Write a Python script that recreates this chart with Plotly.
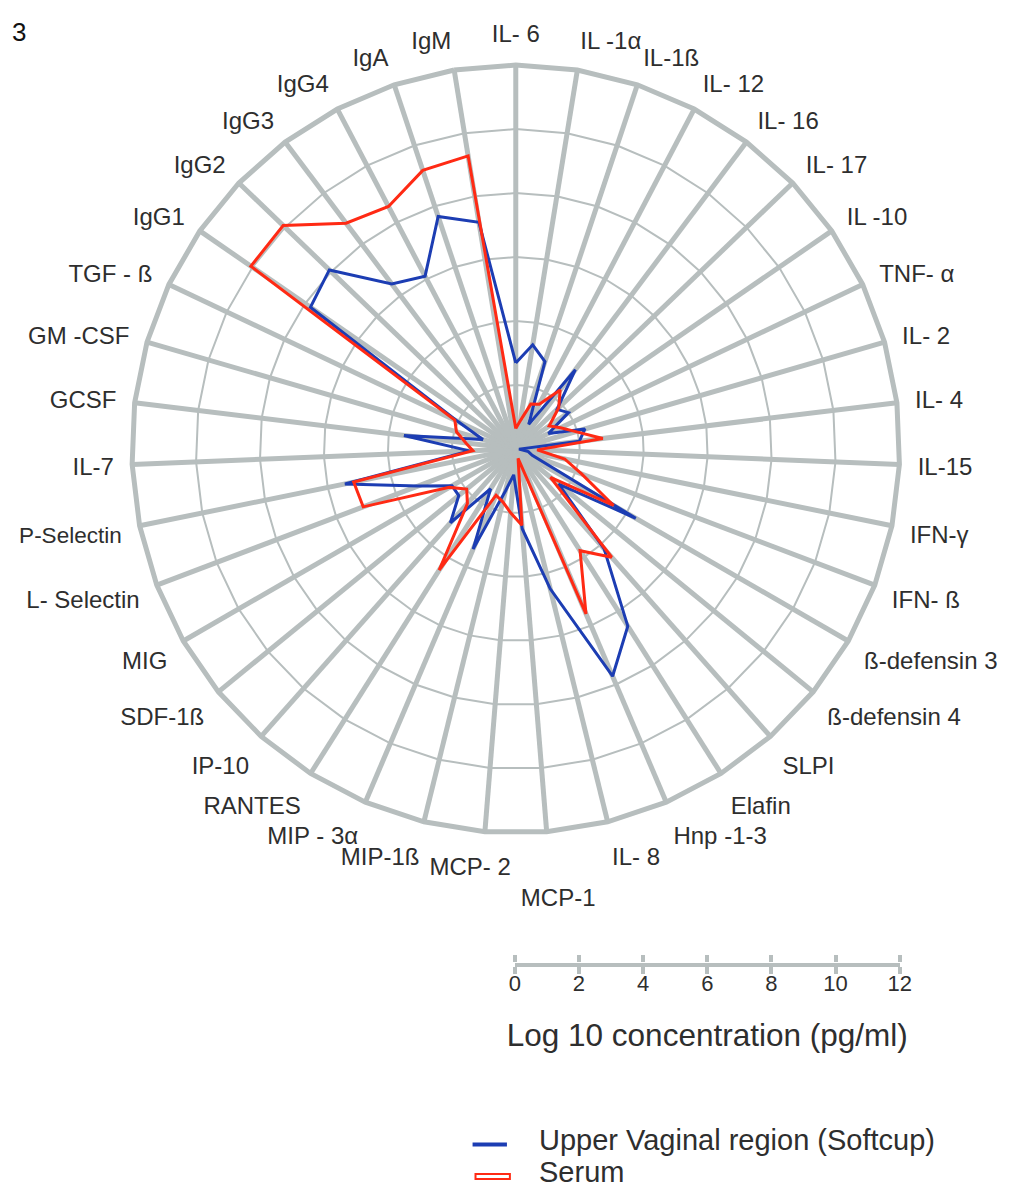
import plotly.graph_objects as go

categories = ["IL- 6", "IL -1α", "IL-1ß", "IL- 12", "IL- 16", "IL- 17", "IL -10", "TNF- α",
              "IL- 2", "IL- 4", "IL-15", "IFN-γ", "IFN- ß", "ß-defensin 3", "ß-defensin 4",
              "SLPI", "Elafin", "Hnp -1-3", "IL- 8", "MCP-1", "MCP- 2", "MIP-1ß", "MIP - 3α",
              "RANTES", "IP-10", "SDF-1ß", "MIG", "L- Selectin", "P-Selectin", "IL-7", "GCSF",
              "GM -CSF", "TGF - ß", "IgG1", "IgG2", "IgG3", "IgG4", "IgA", "IgM"]

# displayed tick labels (the two bottom labels are staggered as in the reference)
tick_labels = [c for c in categories]
tick_labels[categories.index("MCP-1")] = "<br>\u00a0\u00a0\u00a0MCP-1"
tick_labels[categories.index("MCP- 2")] = "MCP- 2\u00a0\u00a0\u00a0\u00a0"
tick_labels[categories.index("P-Selectin")] = "<span style='font-size:22.5px'>P-Selectin</span>"

upper_vaginal = [2.69, 3.3, 2.88, 0.87, 3.1, 1.79, 2.0, 1.13, 2.25, 2.0, 0.1, 0.4, 0.55,
                 4.33, 1.73, 4.16, 6.55, 7.72, 4.5, 2.5, 0.81, 1.35, 3.4, 1.47, 3.08, 2.3,
                 2.3, 3.27, 5.45, 1.45, 3.52, 1.07, 2.0, 7.8, 8.08, 6.45, 6.1, 7.66, 7.18]

serum = [0.64, 0.9, 1.48, 1.58, 2.31, 1.86, 1.27, 1.55, 1.95, 2.74, 0.67, 1.56, 2.2,
         3.53, 1.40, 4.52, 3.76, 5.6, 0.3, 2.39, 2.0, 1.7, 1.57, 4.48, 2.28, 1.98,
         2.4, 5.1, 5.17, 1.34, 1.57, 1.93, 2.11, 10.06, 10.08, 8.83, 8.56, 9.18, 9.28]

scale_ticks = [0, 2, 4, 6, 8, 10, 12]

series_names = ["Upper Vaginal region (Softcup)", "Serum"]

GRID = "#b7bebe"
BLUE = "#1c3db3"
RED = "#ff2a14"
TEXT = "#2e2e2e"
FONT = "Liberation Sans, Arial, sans-serif"

# figure sized so that the page (with the browser's 8px body margin) fits the window
W, H = 997, 1181
OFF = 8


def px(xr):
    return (xr - OFF) / W


def py(yr):
    return (H - (yr - OFF)) / H


cx, cy, R = 519, 449, 391

fig = go.Figure()

fig.add_trace(go.Scatterpolar(
    r=upper_vaginal + upper_vaginal[:1],
    theta=categories + categories[:1],
    mode="lines",
    line=dict(color=BLUE, width=3),
    name=series_names[0],
    showlegend=False,
))
fig.add_trace(go.Scatterpolar(
    r=serum + serum[:1],
    theta=categories + categories[:1],
    mode="lines",
    line=dict(color=RED, width=3),
    name=series_names[1],
    showlegend=False,
))

# invisible traces so that the scale-bar axes are drawn
fig.add_trace(go.Scatter(x=[scale_ticks[0], scale_ticks[-1]], y=[0, 0], mode="markers",
                         marker=dict(opacity=0), showlegend=False, hoverinfo="skip",
                         xaxis="x", yaxis="y"))
fig.add_trace(go.Scatter(x=[scale_ticks[0]], y=[0], mode="markers", marker=dict(opacity=0),
                         showlegend=False, hoverinfo="skip", xaxis="x2", yaxis="y"))

# legend drawn by hand (line swatch for the first series, hollow bar for the second)
LEG_FONT = 29
leg_y = [1139.5, 1172]
legend_shapes = [
    dict(type="line", xref="paper", yref="paper", x0=px(475), x1=px(510),
         y0=py(leg_y[0] + 5), y1=py(leg_y[0] + 5), line=dict(color=BLUE, width=4)),
    dict(type="rect", xref="paper", yref="paper", x0=px(478), x1=px(513),
         y0=py(leg_y[1] + 7), y1=py(leg_y[1] + 2), line=dict(color=RED, width=2),
         fillcolor="white"),
]
legend_texts = [
    dict(text=name, x=px(541), y=py(yv), xref="paper", yref="paper",
         xanchor="left", yanchor="middle", showarrow=False,
         font=dict(size=LEG_FONT, color=TEXT, family=FONT))
    for name, yv in zip(series_names, leg_y)
]

fig.update_layout(
    width=W, height=H,
    margin=dict(l=0, r=0, t=0, b=0),
    paper_bgcolor="white",
    plot_bgcolor="rgba(0,0,0,0)",
    font=dict(family=FONT, color=TEXT),
    showlegend=False,
    polar=dict(
        domain=dict(x=[px(cx - R), px(cx + R)], y=[py(cy + R), py(cy - R)]),
        bgcolor="white",
        gridshape="linear",
        radialaxis=dict(range=[0, 12], dtick=2, showticklabels=False, ticks="",
                        showline=False, gridcolor=GRID, gridwidth=2),
        angularaxis=dict(type="category", categoryorder="array", categoryarray=categories,
                         tickmode="array", tickvals=categories, ticktext=tick_labels,
                         rotation=90, direction="clockwise",
                         gridcolor=GRID, gridwidth=5, showline=True, linecolor=GRID,
                         linewidth=5, ticks="outside", ticklen=11, tickcolor="rgba(0,0,0,0)",
                         tickfont=dict(size=24, color=TEXT, family=FONT)),
    ),
    xaxis=dict(domain=[px(518), px(910)], range=[0, 12], tickvals=scale_ticks,
               showline=True, linecolor=GRID, linewidth=4, ticks="outside", ticklen=7,
               tickwidth=4, tickcolor=GRID, showgrid=False, zeroline=False,
               ticklabelstandoff=-9,
               tickfont=dict(size=22, color=TEXT, family=FONT), anchor="y",
               title=dict(text="Log 10 concentration (pg/ml)", standoff=30,
                          font=dict(size=31.5, color=TEXT, family=FONT))),
    xaxis2=dict(matches="x", overlaying="x", side="top", anchor="y", showline=False,
                ticks="outside", ticklen=7, tickwidth=4, tickcolor=GRID,
                showticklabels=False, showgrid=False, zeroline=False, tickvals=scale_ticks),
    yaxis=dict(domain=[py(963), py(962.5)], visible=False, range=[-1, 1]),
    shapes=legend_shapes,
    annotations=[dict(text="3", x=px(4), y=py(32), xref="paper", yref="paper",
                      xanchor="left", yanchor="middle", showarrow=False,
                      font=dict(size=26, color="#111111", family=FONT))] + legend_texts,
)

fig.write_html("out.html")
